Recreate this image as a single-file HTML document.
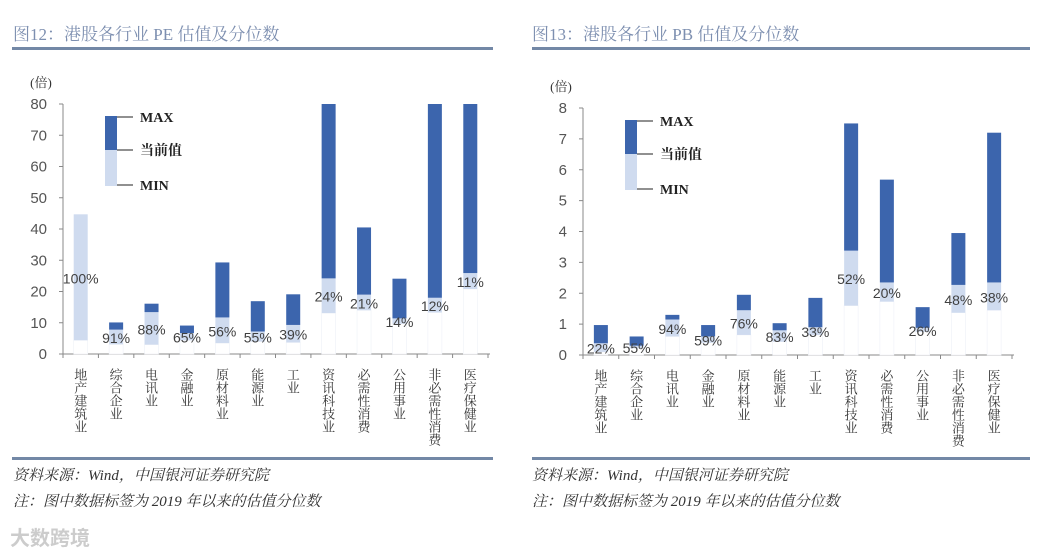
<!DOCTYPE html>
<html><head><meta charset="utf-8">
<style>
body{margin:0;width:1042px;height:550px;background:#fff;overflow:hidden;position:relative;font-family:"Liberation Serif","Noto Serif CJK SC",serif;}
.title{position:absolute;top:20px;font-size:17px;color:#7d8fb0;}
.hr{position:absolute;height:3px;background:#7388a6;}
.note{position:absolute;font-size:15px;font-style:italic;color:#333;}
.wm{position:absolute;left:10px;top:522px;font-size:20px;color:#ccc;font-family:"Noto Sans CJK SC",sans-serif;font-weight:bold;}
</style></head><body>
<div class="title" style="left:13px">图12：港股各行业 PE 估值及分位数</div>
<div class="title" style="left:532px">图13：港股各行业 PB 估值及分位数</div>
<div class="hr" style="left:12px;width:481px;top:47px"></div>
<div class="hr" style="left:532px;width:498px;top:47px"></div>
<div class="hr" style="left:12px;width:481px;top:457px"></div>
<div class="hr" style="left:532px;width:498px;top:457px"></div>
<div class="note" style="left:13px;top:464px">资料来源：Wind，中国银河证券研究院</div>
<div class="note" style="left:13px;top:490px">注：图中数据标签为 2019 年以来的估值分位数</div>
<div class="note" style="left:532px;top:464px">资料来源：Wind，中国银河证券研究院</div>
<div class="note" style="left:532px;top:490px">注：图中数据标签为 2019 年以来的估值分位数</div>
<div class="wm">大数跨境</div>
<svg id="svg" width="1042" height="550" style="position:absolute;left:0;top:0"></svg>
<script>
const categories=["地产建筑业","综合企业","电讯业","金融业","原材料业","能源业","工业","资讯科技业","必需性消费","公用事业","非必需性消费","医疗保健业"];
const peMin=[4.4,3.1,3.0,4.4,3.5,4.0,3.7,13.1,14.0,9.7,13.3,20.8];
const peCur=[44.7,7.8,13.4,6.7,11.7,7.2,9.3,24.2,19.0,11.4,18.0,25.9];
const peMax=[44.7,10.1,16.1,9.1,29.3,16.9,19.1,95,40.5,24.1,120,110];
const peLabels=["100%","91%","88%","65%","56%","55%","39%","24%","21%","14%","12%","11%"];
const peTicks=[0,10,20,30,40,50,60,70,80];
const pbMin=[0.1,0.22,0.6,0.4,0.65,0.43,0.65,1.6,1.73,0.75,1.37,1.45];
const pbCur=[0.38,0.3,1.15,0.6,1.45,0.8,0.9,3.38,2.35,0.88,2.27,2.35];
const pbMax=[0.97,0.6,1.3,0.97,1.95,1.03,1.85,7.5,5.68,1.55,3.95,7.2];
const pbLabels=["22%","55%","94%","59%","76%","83%","33%","52%","20%","26%","48%","38%"];
const pbTicks=[0,1,2,3,4,5,6,7,8];
const svg=document.getElementById('svg');
const NS='http://www.w3.org/2000/svg';
function mk(tag,at,txt){const e=document.createElementNS(NS,tag);for(const k in at)e.setAttribute(k,at[k]);if(txt!==undefined)e.textContent=txt;svg.appendChild(e);return e;}
function chart(o){
  const {x0,x1,y0,yt,ymax,mins,curs,maxs,labels,ticks,pref}=o;
  const n=categories.length, bw=(x1-x0)/n;
  const Y=v=>y0-(Math.min(v,ymax)/ymax)*(y0-yt);
  const X=i=>x0+bw*i+bw/2;
  let e=mk('text',{x:x0-22,y:yt-17,'font-size':13,fill:'#333','text-anchor':'middle'},'(倍)');
  
  
  mk('line',{x1:x0,y1:yt,x2:x0,y2:y0,stroke:'#888'});
  mk('line',{x1:x0,y1:y0,x2:x1+2,y2:y0,stroke:'#888'});
  ticks.forEach(t=>{
    mk('line',{x1:x0-4,y1:Y(t),x2:x0,y2:Y(t),stroke:'#888'});
    e=mk('text',{x:x0-16,y:Y(t)+5,'font-size':15,fill:'#555','text-anchor':'end','font-family':'Liberation Sans, sans-serif'},t);
    
    
  });
  for(let i=0;i<=n;i++) mk('line',{x1:x0+bw*i,y1:y0,x2:x0+bw*i,y2:y0+4,stroke:'#888'});
  categories.forEach((c,i)=>{
    const bx=X(i)-7;
    e=mk('rect',{x:bx,y:Y(mins[i]),width:14,height:y0-Y(mins[i]),fill:'#fff',stroke:'#eef1f7','stroke-width':0.6});
    
    
    e=mk('rect',{x:bx,y:Y(curs[i]),width:14,height:Y(mins[i])-Y(curs[i]),fill:'#cfdbef'});
    
    
    e=mk('rect',{x:bx,y:Y(maxs[i]),width:14,height:Math.max(0,Y(curs[i])-Y(maxs[i])),fill:'#3c65ad'});
    
    
    e=mk('text',{x:X(i),y:(Y(mins[i])+Y(curs[i]))/2+6,'font-size':14,fill:'#404040','text-anchor':'middle','font-family':'Liberation Sans, sans-serif'},labels[i]);
    
    
    e=mk('text',{x:X(i),y:y0+14,'font-size':13,fill:'#333','writing-mode':'tb','glyph-orientation-vertical':0,'font-family':'Noto Serif CJK SC, serif'},c);
    
    
  });
  const lx=x0+42;
  mk('rect',{x:lx,y:yt+12,width:12,height:34,fill:'#3c65ad'});
  mk('rect',{x:lx,y:yt+46,width:12,height:36,fill:'#cfdbef'});
  [[yt+13,'MAX'],[yt+46,'当前值'],[yt+81,'MIN']].forEach(([yy,t])=>{
    mk('line',{x1:lx+12,y1:yy,x2:lx+28,y2:yy,stroke:'#222'});
    e=mk('text',{x:lx+35,y:yy+5,'font-size':14,'font-weight':'bold',fill:'#222'},t);
    
    
  });
}
chart({x0:63,x1:488,y0:354,yt:104,ymax:80,mins:peMin,curs:peCur,maxs:peMax,labels:peLabels,ticks:peTicks,pref:'pe'});
chart({x0:583,x1:1012,y0:355,yt:108,ymax:8,mins:pbMin,curs:pbCur,maxs:pbMax,labels:pbLabels,ticks:pbTicks,pref:'pb'});
</script>
</body></html>
